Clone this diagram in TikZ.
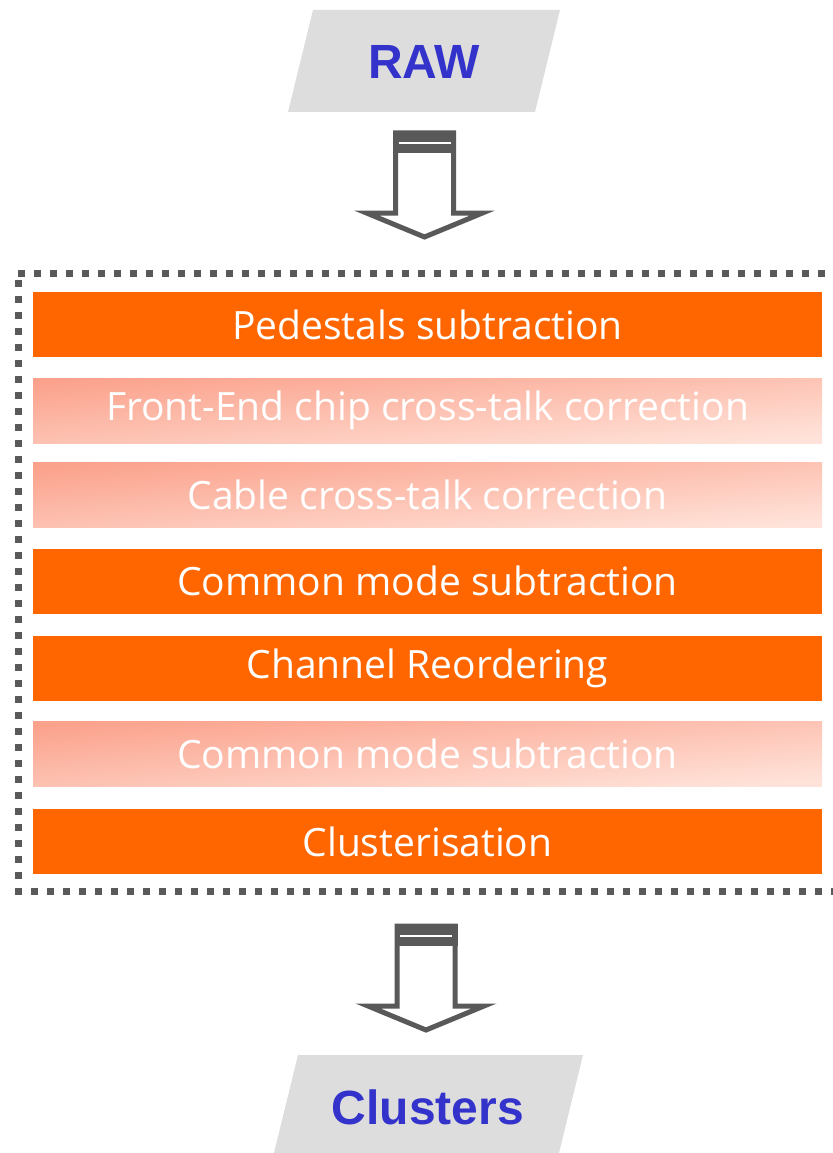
\documentclass[tikz,border=0pt]{standalone}
\usepackage{fontspec}
\setmainfont{Open Sans}
\newfontfamily\headfont{Liberation Sans}
\definecolor{orng}{HTML}{FF6600}
\definecolor{gradtop}{HTML}{FBA28C}
\definecolor{gradbot}{HTML}{FFE3DA}
\definecolor{paragray}{HTML}{DDDDDD}
\definecolor{darkgray}{HTML}{595959}
\definecolor{headblue}{HTML}{3333CC}
\tikzset{
  stepbase/.style={rectangle, minimum width=789pt, minimum height=65pt, inner sep=0pt,
    text=white, font=\fontsize{39}{42}\selectfont},
  solidbox/.style={stepbase, fill=orng},
  gradbox/.style={stepbase, top color=gradtop, bottom color=gradbot, shading angle=5},
  headtext/.style={text=headblue, font=\headfont\bfseries\fontsize{48}{50}\selectfont, inner sep=0pt},
  framedots/.style={draw=darkgray, line width=7pt, dash pattern=on 7pt off 9pt},
  downarrow/.pic={
    \draw[darkgray, fill=white, line width=5pt, miter limit=10]
      (-29,2) -- (29,2) -- (29,82) -- (58,82) -- (0,106) -- (-58,82) -- (-29,82) -- cycle;
    \fill[darkgray] (-31.5,0) rectangle (31.5,22);
    \draw[white, line width=1.5pt] (-26,12) -- (26,12);
  }
}
\begin{document}
\begin{tikzpicture}[x=1pt,y=-1pt]
\useasboundingbox (0,0) rectangle (832,1153);
% RAW
\fill[paragray] (313,10) -- (560,10) -- (535,112) -- (288,112) -- cycle;
\node[headtext] (raw) at (424,62) {RAW};
% arrow 1
\pic at (424.5,131) {downarrow};
% frame
\draw[framedots] (18,273) -- (836,273);
\draw[framedots] (18.5,280) -- (18.5,896);
\draw[framedots] (15,891) -- (836,891);
% steps
\node[solidbox] (s1) at (427.5,324.5) {Pedestals subtraction};
\node[gradbox]  (s2) at (427.5,410.5) {Front-End chip cross-talk correction};
\node[gradbox]  (s3) at (427.5,495) {Cable cross-talk correction};
\node[solidbox] (s4) at (427.5,581) {Common mode subtraction};
\node[solidbox] (s5) at (427.5,668.5) {Channel Reordering};
\node[gradbox]  (s6) at (427.5,753.5) {Common mode subtraction};
\node[solidbox] (s7) at (427.5,841.5) {Clusterisation};
% arrow 2
\pic at (426,924) {downarrow};
% Clusters
\fill[paragray] (298,1055) -- (583,1055) -- (558,1157) -- (273,1157) -- cycle;
\node[headtext] (clusters) at (428,1107) {Clusters};
\end{tikzpicture}
\end{document}
